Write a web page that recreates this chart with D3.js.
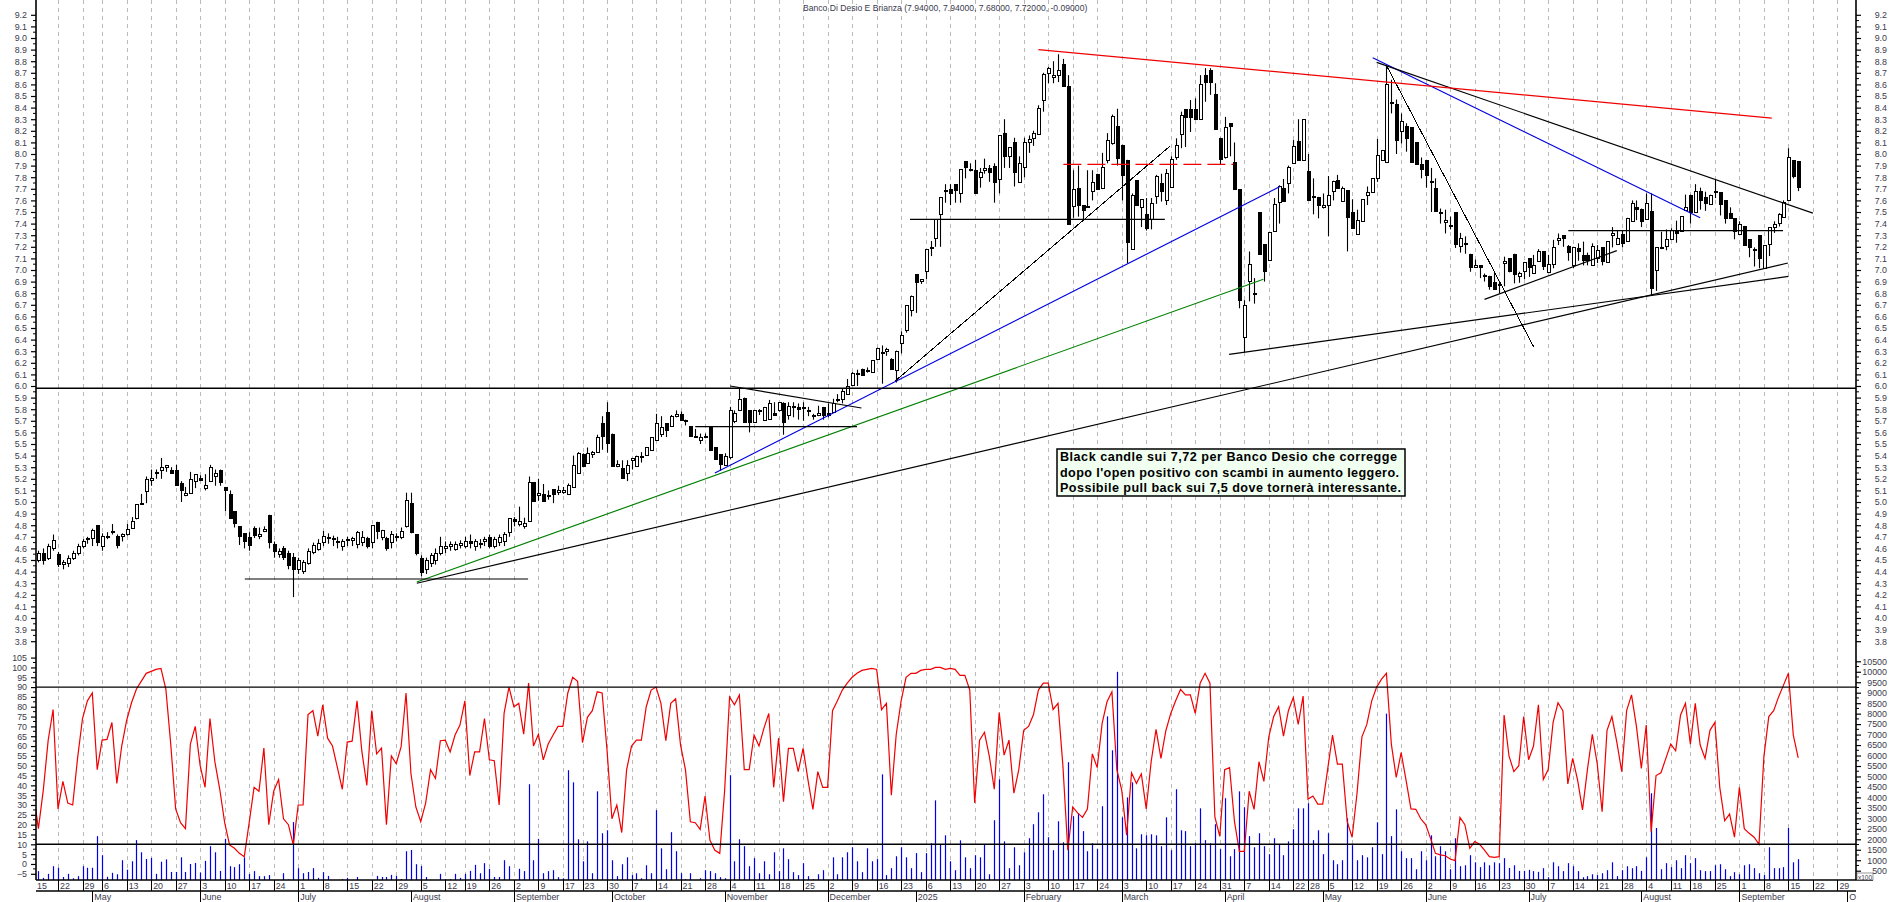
<!DOCTYPE html>
<html>
<head>
<meta charset="utf-8">
<script src="https://cdn.jsdelivr.net/npm/d3@7"></script>
<style>
html, body { margin: 0; padding: 0; background: #fff; overflow: hidden; }
text { font-family: "Liberation Sans", Arial, sans-serif; }
</style>
</head>
<body>
<div id="chart"></div>
<script>
const chartTitle = 'Banco Di Desio E Brianza (7.94000, 7.94000, 7.68000, 7.72000, -0.09000)';
const noteLines = [
    'Black candle sui 7,72 per Banco Desio che corregge',
    "dopo l'open positivo con scambi in aumento leggero.",
    'Possibile pull back sui 7,5 dove tornerà interessante.'
];
const noteWidths = [337, 339, 341];

// candles, one list per month: [open, high, low, close]
const apr2024 = [[4.60,4.64,4.50,4.52],[4.50,4.58,4.48,4.56],[4.56,4.60,4.46,4.50],[4.52,4.64,4.50,4.62],[4.60,4.72,4.58,4.67],[4.55,4.57,4.44,4.46],[4.46,4.50,4.42,4.48],[4.48,4.54,4.44,4.52],[4.52,4.58,4.50,4.56],[4.56,4.64,4.54,4.62],[4.62,4.68,4.60,4.66],[4.68,4.70,4.64,4.69]];
const may2024 = [[4.69,4.77,4.62,4.76],[4.80,4.80,4.62,4.65],[4.62,4.73,4.58,4.71],[4.71,4.74,4.68,4.71],[4.75,4.81,4.72,4.75],[4.71,4.72,4.60,4.63],[4.70,4.73,4.66,4.72],[4.73,4.81,4.71,4.77],[4.78,4.87,4.77,4.84],[4.86,4.98,4.85,4.98],[4.99,5.07,4.98,4.99],[5.10,5.22,4.99,5.20],[5.19,5.28,5.14,5.21],[5.26,5.28,5.20,5.26],[5.27,5.38,5.20,5.30],[5.30,5.32,5.26,5.32],[5.28,5.30,5.25,5.25],[5.28,5.32,5.15,5.15],[5.16,5.18,5.00,5.10],[5.06,5.13,5.05,5.08],[5.08,5.26,5.08,5.20],[5.18,5.24,5.12,5.24]];
const jun2024 = [[5.21,5.23,5.18,5.19],[5.12,5.24,5.10,5.15],[5.18,5.32,5.18,5.30],[5.22,5.28,5.14,5.25],[5.28,5.28,5.14,5.18],[5.13,5.13,4.92,5.10],[5.07,5.10,4.86,4.86],[4.92,4.92,4.78,4.82],[4.79,4.79,4.63,4.70],[4.73,4.73,4.60,4.66],[4.70,4.74,4.58,4.63],[4.78,4.79,4.69,4.72],[4.70,4.78,4.68,4.72],[4.75,4.79,4.74,4.77],[4.89,4.89,4.60,4.66],[4.64,4.66,4.52,4.58],[4.55,4.60,4.52,4.58],[4.60,4.62,4.50,4.52],[4.56,4.58,4.42,4.46],[4.53,4.56,4.18,4.43]];
const jul2024 = [[4.42,4.52,4.38,4.50],[4.40,4.50,4.38,4.48],[4.48,4.60,4.46,4.58],[4.57,4.65,4.55,4.63],[4.60,4.68,4.58,4.65],[4.66,4.75,4.62,4.71],[4.70,4.73,4.64,4.70],[4.69,4.71,4.62,4.69],[4.66,4.70,4.60,4.65],[4.62,4.68,4.58,4.66],[4.68,4.70,4.62,4.68],[4.67,4.70,4.62,4.69],[4.64,4.75,4.60,4.74],[4.66,4.75,4.62,4.70],[4.69,4.70,4.60,4.62],[4.65,4.80,4.60,4.80],[4.83,4.83,4.68,4.75],[4.70,4.76,4.67,4.76],[4.69,4.70,4.58,4.60],[4.65,4.75,4.60,4.72],[4.71,4.73,4.66,4.71],[4.70,4.78,4.68,4.75],[4.80,5.08,4.78,5.02],[4.99,5.08,4.73,4.74]];
const aug2024 = [[4.72,4.72,4.54,4.56],[4.52,4.54,4.36,4.40],[4.42,4.52,4.38,4.50],[4.47,4.56,4.44,4.54],[4.50,4.60,4.46,4.56],[4.56,4.70,4.54,4.62],[4.60,4.66,4.56,4.62],[4.62,4.66,4.58,4.64],[4.60,4.66,4.58,4.64],[4.63,4.67,4.60,4.65],[4.62,4.70,4.60,4.66],[4.66,4.72,4.60,4.64],[4.62,4.68,4.58,4.66],[4.64,4.68,4.60,4.65],[4.66,4.70,4.62,4.68],[4.70,4.72,4.60,4.62],[4.62,4.70,4.60,4.68],[4.66,4.72,4.62,4.70],[4.66,4.74,4.62,4.72],[4.74,4.86,4.70,4.86]];
const sep2024 = [[4.85,4.87,4.79,4.83],[4.81,4.96,4.79,4.84],[4.79,4.865,4.77,4.82],[4.84,5.22,4.84,5.175],[5.17,5.17,5.01,5.01],[5.055,5.2,5.01,5.075],[5.07,5.155,5.01,5.01],[5.06,5.10,5.02,5.06],[5.11,5.11,4.99,5.07],[5.08,5.14,5.06,5.10],[5.08,5.13,5.07,5.10],[5.075,5.16,5.06,5.15],[5.13,5.40,5.13,5.32],[5.25,5.43,5.25,5.42],[5.41,5.42,5.31,5.31],[5.33,5.47,5.33,5.42],[5.41,5.44,5.38,5.43],[5.43,5.58,5.43,5.56],[5.68,5.74,5.45,5.57],[5.78,5.86,5.425,5.51]];
const oct2024 = [[5.59,5.59,5.31,5.31],[5.31,5.36,5.30,5.33],[5.29,5.36,5.20,5.20],[5.25,5.36,5.18,5.32],[5.36,5.38,5.28,5.38],[5.31,5.40,5.31,5.40],[5.40,5.43,5.34,5.40],[5.40,5.47,5.40,5.47],[5.45,5.56,5.45,5.56],[5.53,5.76,5.53,5.68],[5.59,5.74,5.56,5.65],[5.68,5.68,5.56,5.62],[5.65,5.75,5.65,5.74],[5.74,5.79,5.73,5.76],[5.76,5.78,5.71,5.71],[5.71,5.71,5.66,5.70],[5.655,5.655,5.57,5.57],[5.57,5.63,5.56,5.57],[5.535,5.59,5.50,5.56],[5.57,5.59,5.55,5.57],[5.655,5.655,5.45,5.45],[5.47,5.47,5.37,5.37],[5.41,5.41,5.27,5.325]];
const nov2024 = [[5.325,5.42,5.32,5.40],[5.385,5.82,5.37,5.79],[5.70,5.79,5.68,5.77],[5.79,5.98,5.79,5.885],[5.9,5.9,5.69,5.69],[5.79,5.79,5.60,5.69],[5.69,5.79,5.69,5.79],[5.79,5.80,5.75,5.78],[5.71,5.82,5.71,5.82],[5.71,5.88,5.71,5.85],[5.77,5.86,5.75,5.75],[5.79,5.86,5.78,5.86],[5.85,5.86,5.58,5.69],[5.75,5.86,5.71,5.83],[5.82,5.86,5.73,5.83],[5.82,5.85,5.71,5.80],[5.82,5.86,5.70,5.82],[5.79,5.82,5.74,5.79],[5.75,5.76,5.71,5.75],[5.75,5.83,5.74,5.77],[5.82,5.82,5.71,5.75]];
const dec2024 = [[5.77,5.85,5.73,5.75],[5.77,5.89,5.77,5.85],[5.89,5.93,5.86,5.89],[5.89,5.98,5.85,5.96],[5.93,6.06,5.93,6.00],[6.01,6.12,6.01,6.11],[6.11,6.14,6.0,6.11],[6.15,6.15,6.095,6.095],[6.14,6.16,6.115,6.14],[6.115,6.22,6.115,6.22],[6.23,6.33,6.23,6.325],[6.29,6.35,6.02,6.29],[6.30,6.33,6.26,6.32],[6.23,6.24,6.14,6.14],[6.14,6.305,6.03,6.305],[6.37,6.47,6.28,6.44],[6.48,6.695,6.46,6.695],[6.66,6.78,6.60,6.78]];
const jan2025 = [[6.965,6.965,6.63,6.90],[6.90,6.92,6.88,6.92],[6.99,7.18,6.92,7.18],[7.20,7.25,7.12,7.20],[7.28,7.44,7.2,7.44],[7.48,7.63,7.2,7.63],[7.69,7.74,7.58,7.69],[7.695,7.74,7.56,7.66],[7.74,7.74,7.58,7.685],[7.66,7.87,7.58,7.87],[7.94,7.94,7.79,7.885],[7.87,7.92,7.85,7.87],[7.86,7.95,7.66,7.66],[7.805,7.88,7.71,7.845],[7.865,7.96,7.83,7.88],[7.875,7.905,7.76,7.84],[7.895,7.92,7.58,7.76],[7.78,8.16,7.66,8.16],[8.18,8.30,7.88,7.98],[7.98,8.06,7.88,8.06],[8.10,8.14,7.72,7.84],[7.76,7.98,7.76,7.92]];
const feb2025 = [[7.885,8.14,7.80,8.10],[8.10,8.16,8.01,8.13],[8.14,8.20,8.07,8.18],[8.18,8.42,8.17,8.40],[8.465,8.70,8.365,8.69],[8.70,8.75,8.61,8.745],[8.66,8.80,8.61,8.68],[8.68,8.86,8.62,8.72],[8.78,8.82,8.59,8.59],[8.586,8.68,7.40,7.40],[7.55,7.86,7.45,7.70],[7.71,7.90,7.46,7.56],[7.56,7.56,7.43,7.52],[7.55,7.86,7.55,7.55],[7.685,7.86,7.60,7.76],[7.83,7.83,7.70,7.70],[7.70,8.01,7.70,7.885],[7.95,8.18,7.92,8.12],[8.10,8.34,8.08,8.33],[8.24,8.39,7.90,7.96]];
const mar2025 = [[8.08,8.08,7.60,7.82],[7.95,7.95,7.058,7.244],[7.178,7.66,7.178,7.647],[7.776,7.776,7.56,7.56],[7.54,7.61,7.37,7.61],[7.48,7.62,7.34,7.36],[7.44,7.62,7.35,7.58],[7.64,7.82,7.57,7.81],[7.75,7.83,7.59,7.68],[7.61,7.87,7.56,7.84],[7.72,7.98,7.72,7.96],[7.98,8.135,7.95,8.08],[8.18,8.365,8.05,8.34],[8.385,8.385,8.06,8.32],[8.385,8.465,8.19,8.32],[8.385,8.48,8.30,8.30],[8.30,8.68,8.30,8.60],[8.68,8.74,8.45,8.62],[8.72,8.74,8.51,8.62],[8.52,8.61,8.21,8.22],[8.14,8.14,7.91,7.96]];
const apr2025 = [[7.98,8.32,7.96,8.235],[8.265,8.265,7.98,8.235],[7.93,8.10,7.70,7.70],[7.695,7.695,6.67,6.74],[6.42,6.74,6.29,6.695],[6.90,7.16,6.73,7.05],[6.805,6.93,6.71,6.805],[7.50,7.50,7.14,7.14],[7.22,7.22,6.90,6.985],[7.09,7.33,7.09,7.33],[7.33,7.62,7.33,7.565],[7.58,7.73,7.40,7.72],[7.71,7.785,7.59,7.60],[7.75,7.90,7.66,7.89],[7.92,8.12,7.92,8.07],[8.115,8.30,7.95,7.95],[7.95,8.30,7.95,8.30],[7.85,8.0,7.60,7.60],[7.64,7.79,7.48,7.64],[7.63,7.63,7.445,7.565]];
const may2025 = [[7.545,7.66,7.53,7.56],[7.565,7.81,7.29,7.65],[7.68,7.77,7.60,7.77],[7.776,7.82,7.705,7.705],[7.59,7.72,7.59,7.705],[7.69,7.69,7.16,7.46],[7.50,7.61,7.36,7.36],[7.31,7.52,7.31,7.43],[7.42,7.61,7.42,7.61],[7.645,7.72,7.56,7.67],[7.67,7.79,7.67,7.79],[7.79,8.13,7.76,7.99],[7.95,8.035,7.95,8.035],[7.925,8.76,7.925,8.60],[8.445,8.64,8.35,8.445],[8.43,8.47,8.0,8.12],[8.20,8.35,8.09,8.285],[8.24,8.265,8.02,8.14],[8.23,8.23,7.93,7.93],[8.10,8.10,7.91,7.91],[7.91,7.97,7.79,7.87]];
const jun2025 = [[7.95,7.95,7.71,7.82],[7.77,7.88,7.50,7.77],[7.71,7.79,7.51,7.51],[7.50,7.53,7.40,7.49],[7.41,7.52,7.315,7.43],[7.39,7.46,7.35,7.39],[7.50,7.50,7.19,7.22],[7.215,7.32,7.15,7.28],[7.235,7.29,7.14,7.235],[7.14,7.14,6.985,7.03],[7.02,7.09,7.02,7.04],[7.04,7.04,6.93,7.02],[6.96,6.97,6.90,6.96],[6.95,6.95,6.83,6.86],[6.90,6.985,6.83,6.84],[6.88,6.90,6.80,6.88],[7.06,7.115,6.86,7.075],[7.10,7.10,6.98,6.985],[7.14,7.14,6.885,6.965],[6.94,6.985,6.89,6.97],[6.995,7.07,6.92,7.07]];
const jul2025 = [[7.10,7.10,6.94,7.02],[6.97,7.13,6.97,7.04],[7.07,7.18,7.07,7.16],[7.16,7.16,7.0,7.03],[6.985,7.13,6.985,7.05],[7.05,7.26,7.015,7.195],[7.26,7.315,7.215,7.28],[7.30,7.30,7.20,7.27],[7.207,7.215,7.08,7.155],[7.04,7.20,7.015,7.195],[7.19,7.23,7.08,7.16],[7.127,7.245,7.04,7.087],[7.13,7.15,7.04,7.09],[7.05,7.23,7.05,7.21],[7.105,7.215,7.06,7.17],[7.195,7.195,7.04,7.07],[7.07,7.25,7.07,7.25],[7.30,7.37,7.195,7.315],[7.23,7.345,7.23,7.28],[7.31,7.345,7.195,7.23],[7.25,7.45,7.25,7.45],[7.42,7.60,7.42,7.575],[7.54,7.60,7.43,7.52]];
const aug2025 = [[7.53,7.53,7.37,7.425],[7.445,7.66,7.44,7.58],[7.51,7.66,6.785,6.85],[6.995,7.195,6.82,7.195],[7.20,7.33,7.18,7.20],[7.21,7.35,7.17,7.27],[7.27,7.36,7.27,7.345],[7.335,7.425,7.235,7.32],[7.335,7.465,7.335,7.465],[7.517,7.65,7.51,7.546],[7.65,7.65,7.40,7.50],[7.50,7.74,7.50,7.68],[7.68,7.71,7.52,7.60],[7.625,7.675,7.51,7.57],[7.57,7.65,7.57,7.65],[7.67,7.78,7.62,7.68],[7.67,7.67,7.47,7.57],[7.60,7.60,7.40,7.445],[7.49,7.54,7.445,7.45],[7.445,7.445,7.265,7.33]];
const sep2025 = [[7.315,7.42,7.315,7.40],[7.38,7.38,7.215,7.215],[7.265,7.265,7.11,7.195],[7.18,7.195,7.03,7.18],[7.30,7.30,7.015,7.105],[7.015,7.215,7.015,7.215],[7.22,7.37,7.12,7.37],[7.37,7.42,7.32,7.40],[7.40,7.49,7.375,7.48],[7.465,7.60,7.45,7.59],[7.61,8.05,7.61,7.977],[7.948,7.948,7.79,7.813],[7.94,7.94,7.68,7.72]];

// lower panel oscillator, one value per session
const oscillator = [
    36,18,37.6,63,78.6,28,42,31,30,54,
    74,83,87,48,63,63.4,72,41,60,73,
    82,89,93,97,98,99,99.5,89,61,28,
    21,18,61,70,50,39,74,52,38,21,
    9.7,8,5.4,3.7,21,39,37,59,20,37,
    43,23,20,9.7,30,30,76,78,65,81,
    64,60,49,38,62,62.5,83,57,40,78,
    56,59,20,55,51,59.7,87,46,29,21.5,
    31,48,43.5,62.7,63,57,65.6,70.7,83,45,
    57,57,74,53,52.5,30,76.6,90,80,81.7,
    66,92,60,66,53,61,65.6,70,70,87,
    95,93,61.7,74.6,78,87.6,87,58,23,30,
    16,48,60,63,63,80,88.5,90,81.7,62.7,
    81.7,84,60.5,48,21.5,21,17.6,34.6,12,7,
    5.4,37.6,85,81,86,48,48,65.6,60,69,
    76.6,39,64,31.7,58.8,58.8,47,58.8,42.7,27.8,
    47,39,39,78,83,88.5,92,95,97,98.5,
    99,99.5,99,78.5,81.7,35,66,83,95,97,
    97,98.5,99,99,100,100,99,99.5,99,96,
    96,88.5,31,63,67,54.6,38,77,55.4,63,
    36,48,68,70,76,88.5,92,92,78.6,81.7,
    50,7,29,26,23.7,28,56,49,71.5,82.5,
    87.6,48,37.6,14.7,46.4,41,45.8,28,52,68.5,
    53.7,67.8,76.6,83,88.8,86,86,76.6,92,97,
    92,24,14,48,49,21.5,6.4,6.4,37,27.8,
    52,42,64.7,75,80,65,78,84.7,71,85.4,
    33,34.6,30.5,30.5,48,65.6,50.8,50.8,21.5,13.6,
    36,64.7,71,83,90,94,97,61,44,56.6,
    42.7,28,27.8,23,20,13,5.4,4.6,4.2,2.5,
    1.7,23.7,20,8,11.4,10,7,3.7,3.4,3.7,
    75.8,55,47,50,75,53,60,81,43,48,
    72,82,78,40.7,53.7,42.7,27.5,48,66,51,
    26.6,68,75,62,47,78,86,70,48.6,70.7,
    16.4,45,46.4,53.7,61,57.6,75.8,81.7,61,81.7,
    60.5,53.7,68,72,39,22,25.4,13.6,39,18,
    15.6,13.6,10,54.6,75,78,85,91,97,65.6,54
];

// volume in hundreds, right axis
const volume = [
    700,480,160,350,715,640,200,350,140,240,
    715,640,640,2150,1240,210,400,330,1000,550,
    950,1960,1380,1060,1110,350,930,1040,440,440,
    1140,440,820,870,410,970,1670,1380,490,2020,
    715,670,810,1140,340,480,240,240,290,30,
    30,380,80,2820,620,380,440,620,160,430,
    250,50,50,100,160,50,200,50,0,50,
    250,200,200,300,250,100,1430,1490,810,720,
    200,0,50,350,100,100,350,160,350,490,
    780,380,860,590,200,200,1000,715,0,590,
    480,4630,1000,2020,380,480,525,190,140,5300,
    4720,2000,950,1900,380,4290,2290,2430,1000,240,
    810,1140,290,380,140,760,380,3390,1570,570,
    2340,1430,380,100,380,50,140,525,480,380,
    190,140,5060,950,2000,1670,715,1100,380,950,
    330,1380,480,1570,1050,430,290,860,240,100,
    330,525,50,1140,330,1140,1380,1620,950,430,
    1570,950,1050,5100,290,620,1190,1620,1140,620,
    1340,430,1340,1810,3860,1760,2190,950,525,1950,
    1140,620,1240,1140,1760,330,2910,4860,1900,620,
    1620,760,1380,2050,2720,3290,4150,2100,1480,2860,
    1860,5680,3100,3240,2390,1430,1810,1530,3580,7870,
    6250,10000,3050,4000,4720,1570,2240,2190,2240,2190,
    1670,3050,1480,4390,2430,2390,1670,1810,3480,1960,
    1810,2720,1530,3960,1190,1530,4290,3530,2150,1620,
    2290,1670,1290,2050,1760,1240,1900,2480,3480,3480,
    3720,1960,2430,1290,2290,1000,810,1000,3000,1720,
    1000,1240,1140,1620,2810,1290,8000,2150,3430,1430,
    1100,1100,570,1430,1000,2190,1190,1670,1430,570,
    2050,715,760,1240,900,670,900,760,900,860,
    1100,635,760,490,490,540,480,445,620,190,
    900,715,480,860,715,480,190,240,330,290,
    380,525,900,240,525,715,620,715,490,1140,
    4200,2540,570,860,670,1000,620,1240,860,1100,
    525,480,480,760,810,570,240,430,330,760,
    810,620,380,290,1620,620,620,670,2540,900,1050
];

// session index and label of the weekly and monthly ticks
const weekIndex = [0,5,10,14,19,24,29,34,39,44,49,54,59,64,69,74,79,84,88,93,98,103,108,112,117,122,127,132,137,142,147,152,157,162,167,172,177,182,187,192,197,202,207,212,217,222,227,232,237,242,247,252,257,260,264,269,274,279,284,289,294,299,304,309,314,319,324,329,334,338,343,348,353,358,363,368];
const weekLabels = ['15','22','29','6','13','20','27','3','10','17','24','1','8','15','22','29','5','12','19','26','2','9','17','23','30','7','14','21','28','4','11','18','25','2','9','16','23','6','13','20','27','3','10','17','24','3','10','17','24','31','7','14','22','28','5','12','19','26','2','9','16','23','30','7','14','21','28','4','11','18','25','1','8','15','22','29'];
const monthIndex = [12,34,54,77,98,118,141,162,180,202,222,243,263,284,305,328,348,370];
const monthLabels = ['May','June','July','August','September','October','November','December','2025','February','March','April','May','June','July','August','September','O'];

// drawn trend lines: [session, price, session, price]
const blackLines = [
    [43.1,4.336,100.9,4.336],
    [78.2,4.30,357.9,7.06],
    [178.8,7.437,230.8,7.437],
    [243.9,6.273,358,6.945],
    [274,8.79,363,7.49],
    [296,6.747,323,7.167],
    [313.1,7.34,356.9,7.34],
    [142.1,6.0,168.9,5.81],
    [135,5.65,168,5.65]
];
const thinLines = [
    [175.7,6.04,231.9,8.07],
    [276.05,8.76,306,6.34]
];
const blueLines = [
    [139,5.25,254.3,7.72],
    [273.2,8.83,340,7.45]
];
const greenLines = [[78.2,4.31,250.9,6.92]];
const redLines = [[205,8.90,354.6,8.31]];
const redDashed = [[210.1,7.91,244.8,7.91]];
const priceLevels = [5.98];
const oscLevels = [90, 10];

const width = 1890, height = 902;
const left = 36, right = 1856, axisY = 880, axisY2 = 891;

const candles = [].concat(apr2024, may2024, jun2024, jul2024, aug2024, sep2024, oct2024, nov2024, dec2024,
    jan2025, feb2025, mar2025, apr2025, may2025, jun2025, jul2025, aug2025, sep2025);

const x = d3.scaleLinear().domain([5, 358]).range([58, 1788.4]);
const yPrice = d3.scaleLinear().domain([3.8, 9.2]).range([641.2, 14.8]);
const yOsc = d3.scaleLinear().domain([-5, 105]).range([873.8, 657.6]);
const yVol = d3.scaleLinear().domain([500, 10500]).range([870.7, 661.3]);

const svg = d3.select('#chart').append('svg')
    .attr('width', width)
    .attr('height', height)
    .style('display', 'block');

svg.append('defs').append('clipPath').attr('id', 'plot')
    .append('rect').attr('x', left).attr('y', 0).attr('width', right - left).attr('height', axisY);

const textColor = '#3b3b4d';
const fontSize = 8.9;

// weekly grid
svg.append('g').selectAll('line').data(weekIndex.filter(d => x(d) > left)).join('line')
    .attr('x1', d => Math.round(x(d)) + 0.5).attr('x2', d => Math.round(x(d)) + 0.5)
    .attr('y1', 0).attr('y2', axisY)
    .attr('stroke', '#b9b9b9').attr('stroke-dasharray', '4,4');

const plot = svg.append('g').attr('clip-path', 'url(#plot)');

// volume bars
plot.append('g').selectAll('line').data(volume).join('line')
    .attr('x1', (d, i) => Math.round(x(i)) + 0.5).attr('x2', (d, i) => Math.round(x(i)) + 0.5)
    .attr('y1', axisY).attr('y2', d => yVol(d))
    .attr('stroke', '#0000ee').attr('stroke-width', 1.2);

// oscillator
plot.append('path').datum(oscillator)
    .attr('fill', 'none').attr('stroke', '#f00000').attr('stroke-width', 1.2)
    .attr('d', d3.line().x((d, i) => x(i)).y(d => yOsc(d)));

// candles
const barX = i => Math.round(x(i)) + 0.5;
const bars = plot.append('g').selectAll('g').data(candles).join('g');
bars.append('line')
    .attr('x1', (d, i) => barX(i)).attr('x2', (d, i) => barX(i))
    .attr('y1', d => yPrice(d[1])).attr('y2', d => yPrice(d[2]))
    .attr('stroke', '#000').attr('stroke-width', 1.1);
bars.append('rect')
    .attr('x', (d, i) => barX(i) - 1.5)
    .attr('y', d => Math.round(yPrice(Math.max(d[0], d[3]))) + 0.5)
    .attr('width', 3)
    .attr('height', d => Math.max(1, Math.round(Math.abs(yPrice(d[0]) - yPrice(d[3])))))
    .attr('fill', d => d[3] < d[0] ? '#000' : '#fff')
    .attr('stroke', '#000').attr('stroke-width', 1)
    .attr('shape-rendering', 'crispEdges');

// trend lines
function drawLines(list, color, w, dash, crisp) {
    plot.append('g').selectAll('line').data(list).join('line')
        .attr('x1', d => x(d[0])).attr('y1', d => yPrice(d[1]))
        .attr('x2', d => x(d[2])).attr('y2', d => yPrice(d[3]))
        .attr('stroke', color).attr('stroke-width', w)
        .attr('stroke-dasharray', dash || null)
        .attr('shape-rendering', crisp ? 'crispEdges' : null);
}
drawLines(greenLines, '#008000', 1.15);
drawLines(blueLines, '#0000e0', 1.15);
drawLines(blackLines, '#000', 1.15);
drawLines(thinLines, '#000', 1, null, true);
drawLines(redLines, '#f00000', 1.25);
drawLines(redDashed, '#f00000', 1.3, '18,6');

// horizontal levels
svg.append('g').selectAll('line').data(priceLevels).join('line')
    .attr('x1', left).attr('x2', right)
    .attr('y1', d => yPrice(d)).attr('y2', d => yPrice(d))
    .attr('stroke', '#000').attr('stroke-width', 1.4);
svg.append('g').selectAll('line').data(oscLevels).join('line')
    .attr('x1', left).attr('x2', right)
    .attr('y1', d => yOsc(d)).attr('y2', d => yOsc(d))
    .attr('stroke', '#000').attr('stroke-width', 1.4);

// value axes, d3 ticks with half steps added by hand below
function styleAxis(g) {
    g.select('.domain').remove();
    g.selectAll('line').attr('stroke', '#000').attr('stroke-width', 1.2);
    g.selectAll('text').attr('fill', textColor).style('font-size', fontSize + 'px');
}
const priceTicks = d3.range(38, 93).map(d => d / 10);
const oscTicks = d3.range(-5, 106, 5);
const volTicks = d3.range(500, 10501, 500);

function addAxis(side, at, scale, ticks, fmt) {
    const axis = (side === 'left' ? d3.axisLeft(scale) : d3.axisRight(scale))
        .tickValues(ticks).tickFormat(fmt).tickSize(5).tickPadding(4);
    svg.append('g').attr('transform', 'translate(' + at + ',0)').call(axis).call(styleAxis);
    // minor ticks halfway between the labelled ones
    const sign = side === 'left' ? -1 : 1;
    svg.append('g').selectAll('line').data(ticks.slice(1)).join('line')
        .attr('x1', at).attr('x2', at + sign * 3)
        .attr('y1', (d, i) => (scale(d) + scale(ticks[i])) / 2)
        .attr('y2', (d, i) => (scale(d) + scale(ticks[i])) / 2)
        .attr('stroke', '#000').attr('stroke-width', 1);
}
const fmtPrice = d3.format('.1f');
addAxis('left', left, yPrice, priceTicks, fmtPrice);
addAxis('left', left, yOsc, oscTicks, d3.format('d'));
addAxis('right', right, yPrice, priceTicks, fmtPrice);
addAxis('right', right, yVol, volTicks, d3.format('d'));

// right labels sit flush with the picture edge
svg.selectAll('g.tick text')
    .filter(function () { return this.getAttribute('x') > 0; })
    .attr('text-anchor', 'end').attr('x', 31);

svg.append('line').attr('x1', left).attr('x2', left).attr('y1', 0).attr('y2', axisY).attr('stroke', '#000').attr('stroke-width', 1.6);
svg.append('line').attr('x1', right).attr('x2', right).attr('y1', 0).attr('y2', axisY).attr('stroke', '#000').attr('stroke-width', 1.6);

// time axis
svg.append('line').attr('x1', left).attr('x2', 1873).attr('y1', axisY).attr('y2', axisY).attr('stroke', '#000').attr('stroke-width', 1.5);
svg.append('line').attr('x1', left).attr('x2', right).attr('y1', axisY2).attr('y2', axisY2).attr('stroke', '#000').attr('stroke-width', 1.5);
svg.append('g').selectAll('line').data(weekIndex.filter(d => x(d) > left)).join('line')
    .attr('x1', d => Math.round(x(d)) + 0.5).attr('x2', d => Math.round(x(d)) + 0.5)
    .attr('y1', axisY).attr('y2', axisY2).attr('stroke', '#000');
svg.append('g').selectAll('line').data(monthIndex).join('line')
    .attr('x1', d => Math.round(x(d)) + 0.5).attr('x2', d => Math.round(x(d)) + 0.5)
    .attr('y1', axisY2).attr('y2', height).attr('stroke', '#000');
svg.append('g').selectAll('text').data(weekIndex).join('text')
    .attr('x', d => Math.max(x(d), left - 1) + 2)
    .attr('y', 889)
    .attr('fill', textColor).style('font-size', fontSize + 'px')
    .text((d, i) => weekLabels[i]);
svg.append('g').selectAll('text').data(monthIndex).join('text')
    .attr('x', d => x(d) + 2)
    .attr('y', 900)
    .attr('fill', textColor).style('font-size', fontSize + 'px')
    .text((d, i) => monthLabels[i]);

// scale note
svg.append('rect').attr('x', right + 1).attr('y', 873).attr('width', 16).attr('height', 7)
    .attr('fill', '#fff').attr('stroke', '#555').attr('stroke-width', 0.6);
svg.append('text').attr('x', right + 2).attr('y', 879.5)
    .attr('fill', textColor).style('font-size', '6.5px').text('x100');

// title
svg.append('text').attr('x', 803).attr('y', 11)
    .attr('fill', textColor).style('font-size', '8.6px').text(chartTitle);

// annotation
const note = svg.append('g');
note.append('rect').attr('x', 1057).attr('y', 449).attr('width', 348).attr('height', 47)
    .attr('fill', '#f0fff0').attr('stroke', '#000').attr('stroke-width', 1.5);
note.selectAll('text').data(noteLines).join('text')
    .attr('x', 1060)
    .attr('y', (d, i) => 461 + i * 15.6)
    .attr('fill', '#000')
    .attr('textLength', (d, i) => noteWidths[i])
    .attr('lengthAdjust', 'spacing')
    .style('font-size', '12.6px').style('font-weight', 'bold')
    .text(d => d);
</script>
</body>
</html>
